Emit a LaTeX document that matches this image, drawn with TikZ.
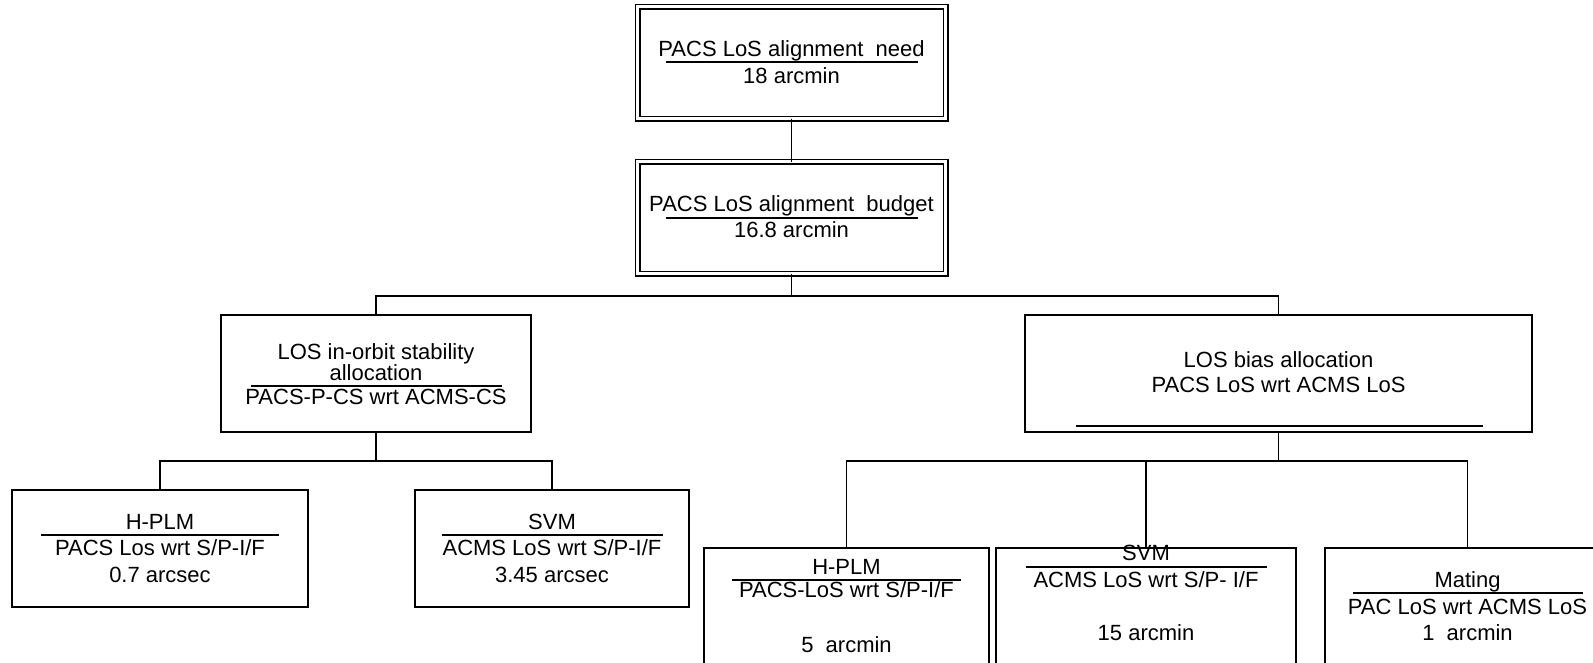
\documentclass[tikz,border=0pt]{standalone}
\usepackage{fontspec}
\setmainfont{Liberation Sans}
\tikzset{
  box/.style={draw, rectangle, line width=1.7pt, inner sep=0pt, outer sep=0pt},
  dbox/.style={draw, rectangle, double, double distance=3.2pt, line width=1.4pt, inner sep=0pt, outer sep=0pt},
  txt/.style={anchor=base, inner sep=0pt, outer sep=0pt, font=\fontsize{22}{26}\selectfont},
  rule/.style={line width=1.6pt},
  link/.style={line width=1.7pt},
}
\begin{document}
\begin{tikzpicture}[x=1pt, y=-1pt]
\useasboundingbox (0,0) rectangle (1593,662);
\fill[white] (0,0) rectangle (1593,662);
\clip (0,0) rectangle (1593,662);

% boxes
\node[dbox, minimum width=308pt, minimum height=112pt] (need) at (791.5,62.5) {};
\node[dbox, minimum width=308pt, minimum height=112pt] (budget) at (791.5,217.5) {};
\node[box, minimum width=310pt, minimum height=117pt] (stab) at (376,373.5) {};
\node[box, minimum width=507pt, minimum height=117pt] (bias) at (1278.5,373.5) {};
\node[box, minimum width=296pt, minimum height=117pt] (hplmA) at (160,548.5) {};
\node[box, minimum width=274pt, minimum height=117pt] (svmA) at (552,548.5) {};
\node[box, minimum width=285pt, minimum height=117pt] (hplmB) at (846.5,606.5) {};
\node[box, minimum width=300pt, minimum height=117pt] (svmB) at (1146,606.5) {};
\node[box, minimum width=285pt, minimum height=117pt] (mating) at (1467.5,606.5) {};

% bus coordinates
\coordinate (busA) at (791.5,296);
\coordinate (busB) at (376,461);
\coordinate (busC) at (1278.5,461);

% connectors
\draw[link] (need.south) -- (budget.north);
\draw[link] (budget.south) -- (budget.south |- busA);
\draw[link] (stab.north) -- (stab.north |- busA) -- (bias.north |- busA) -- (bias.north);
\draw[link] (stab.south) -- (stab.south |- busB);
\draw[link] (hplmA.north) -- (hplmA.north |- busB) -- (svmA.north |- busB) -- (svmA.north);
\draw[link] (bias.south) -- (bias.south |- busC);
\draw[link] (hplmB.north) -- (hplmB.north |- busC) -- (mating.north |- busC) -- (mating.north);
\draw[link] (svmB.north |- busC) -- (svmB.north);

% texts: need
\node[txt] (need1) at (791.5,56.5) {PACS LoS alignment\ \ need};
\draw[rule] (666,62) -- (918,62);
\node[txt] (need2) at (791.5,83.5) {18 arcmin};

% budget
\node[txt] (budget1) at (791.5,211.5) {PACS LoS alignment\ \ budget};
\draw[rule] (666,218) -- (918,218);
\node[txt] (budget2) at (791.5,237.5) {16.8 arcmin};

% stability
\node[txt] (stab1) at (376,359.5) {LOS in-orbit stability};
\node[txt] (stab2) at (376,380.5) {allocation};
\draw[rule] (251,386) -- (502,386);
\node[txt] (stab3) at (376,404.5) {PACS-P-CS wrt ACMS-CS};

% bias
\node[txt] (bias1) at (1278.5,367.5) {LOS bias allocation};
\node[txt] (bias2) at (1278.5,392.5) {PACS LoS wrt ACMS LoS};
\draw[rule] (1076,426) -- (1483,426);

% H-PLM (left)
\node[txt] (hplmA1) at (160,529.5) {H-PLM};
\draw[rule] (41,535) -- (279,535);
\node[txt] (hplmA2) at (160,555.5) {PACS Los wrt S/P-I/F};
\node[txt] (hplmA3) at (160,582.5) {0.7 arcsec};

% SVM (left)
\node[txt] (svmA1) at (552,529.5) {SVM};
\draw[rule] (442,535) -- (663,535);
\node[txt] (svmA2) at (552,555.5) {ACMS LoS wrt S/P-I/F};
\node[txt] (svmA3) at (552,582.5) {3.45 arcsec};

% H-PLM (right)
\node[txt] (hplmB1) at (846.5,574.5) {H-PLM};
\draw[rule] (732,580) -- (961,580);
\node[txt] (hplmB2) at (846.5,597.5) {PACS-LoS wrt S/P-I/F};
\node[txt] (hplmB3) at (846.5,652.5) {5\ \ arcmin};

% SVM (right)
\node[txt] (svmB1) at (1146,560.5) {SVM};
\draw[rule] (1026,567) -- (1267,567);
\node[txt] (svmB2) at (1146,587.5) {ACMS LoS wrt S/P- I/F};
\node[txt] (svmB3) at (1146,640.5) {15 arcmin};

% Mating
\node[txt] (mat1) at (1467.5,587.5) {Mating};
\draw[rule] (1353,593) -- (1583,593);
\node[txt] (mat2) at (1467.5,614.5) {PAC LoS wrt ACMS LoS};
\node[txt] (mat3) at (1467.5,640.5) {1\ \ arcmin};
\end{tikzpicture}
\end{document}
